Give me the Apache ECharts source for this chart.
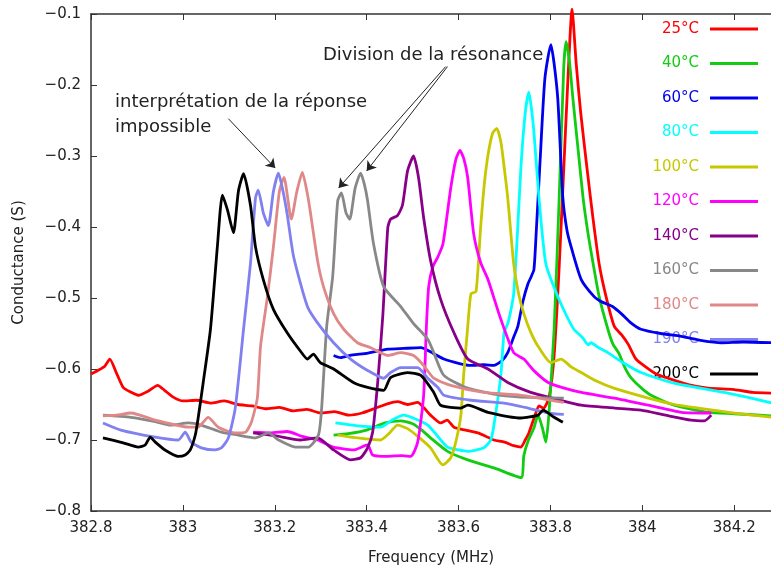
<!DOCTYPE html>
<html><head><meta charset="utf-8">
<script src="https://cdn.jsdelivr.net/npm/echarts@6/dist/echarts.min.js"></script>
<style>html,body{margin:0;padding:0;background:#fff}#c{width:771px;height:571px}</style>
</head><body><div id="c"></div>
<script>
const xMin = 382.8, xMax = 384.28, xStep = 0.2;
const yMin = -0.8, yMax = -0.1, yStep = 0.1;
const names = ['25°C','40°C','60°C','80°C','100°C','120°C','140°C','160°C','180°C','190°C','200°C'];
const colors = ['#ff0000','#11cc11','#0000ee','#00ffff','#c8c800','#ff00ff','#880088','#888888','#e08888','#8080f0','#000000'];

const s25 = [[382.800,-0.607],[382.815,-0.602],[382.830,-0.596],[382.841,-0.586],[382.855,-0.605],[382.870,-0.626],[382.885,-0.632],[382.903,-0.637],[382.925,-0.631],[382.945,-0.623],[382.960,-0.630],[382.980,-0.640],[383.000,-0.645],[383.030,-0.644],[383.060,-0.648],[383.090,-0.645],[383.120,-0.650],[383.150,-0.652],[383.180,-0.656],[383.210,-0.654],[383.240,-0.659],[383.270,-0.657],[383.300,-0.662],[383.330,-0.660],[383.361,-0.665],[383.390,-0.662],[383.420,-0.655],[383.445,-0.649],[383.467,-0.646],[383.490,-0.650],[383.511,-0.647],[383.525,-0.655],[383.539,-0.665],[383.561,-0.676],[383.575,-0.672],[383.590,-0.682],[383.615,-0.686],[383.642,-0.690],[383.660,-0.695],[383.677,-0.700],[383.700,-0.703],[383.720,-0.708],[383.736,-0.710],[383.745,-0.700],[383.753,-0.690],[383.765,-0.668],[383.775,-0.652],[383.785,-0.655],[383.797,-0.640],[383.808,-0.581],[383.819,-0.456],[383.829,-0.317],[383.838,-0.192],[383.847,-0.093],[383.856,-0.170],[383.866,-0.240],[383.880,-0.320],[383.893,-0.390],[383.906,-0.452],[383.921,-0.498],[383.939,-0.540],[383.955,-0.552],[383.969,-0.565],[383.985,-0.585],[383.997,-0.592],[384.030,-0.607],[384.056,-0.613],[384.100,-0.622],[384.143,-0.627],[384.200,-0.629],[384.240,-0.633],[384.283,-0.634]];
const s40 = [[383.328,-0.693],[383.360,-0.691],[383.400,-0.686],[383.440,-0.676],[383.474,-0.673],[383.500,-0.677],[383.520,-0.686],[383.539,-0.697],[383.576,-0.716],[383.620,-0.728],[383.680,-0.740],[383.736,-0.753],[383.742,-0.722],[383.752,-0.700],[383.764,-0.683],[383.773,-0.665],[383.782,-0.682],[383.790,-0.703],[383.797,-0.660],[383.808,-0.544],[383.819,-0.359],[383.829,-0.174],[383.834,-0.139],[383.841,-0.165],[383.849,-0.220],[383.860,-0.290],[383.871,-0.359],[383.882,-0.410],[383.893,-0.452],[383.906,-0.498],[383.925,-0.544],[383.936,-0.565],[383.949,-0.578],[383.962,-0.598],[383.976,-0.613],[384.000,-0.628],[384.019,-0.637],[384.069,-0.651],[384.143,-0.661],[384.200,-0.663],[384.283,-0.666]];
const s60 = [[383.328,-0.581],[383.343,-0.584],[383.370,-0.580],[383.400,-0.578],[383.446,-0.572],[383.480,-0.571],[383.518,-0.570],[383.545,-0.578],[383.568,-0.586],[383.600,-0.592],[383.627,-0.595],[383.655,-0.594],[383.677,-0.595],[383.695,-0.588],[383.707,-0.577],[383.720,-0.555],[383.729,-0.540],[383.740,-0.505],[383.751,-0.480],[383.758,-0.470],[383.764,-0.460],[383.768,-0.420],[383.778,-0.300],[383.788,-0.190],[383.801,-0.143],[383.808,-0.170],[383.816,-0.220],[383.827,-0.359],[383.836,-0.405],[383.845,-0.428],[383.867,-0.474],[383.895,-0.498],[383.910,-0.505],[383.921,-0.508],[383.935,-0.512],[383.954,-0.522],[383.975,-0.535],[383.997,-0.544],[384.040,-0.550],[384.085,-0.554],[384.130,-0.560],[384.172,-0.563],[384.220,-0.562],[384.283,-0.563]];
const s80 = [[383.332,-0.676],[383.380,-0.680],[383.430,-0.682],[383.455,-0.672],[383.480,-0.665],[383.505,-0.670],[383.533,-0.679],[383.555,-0.695],[383.576,-0.710],[383.600,-0.714],[383.620,-0.716],[383.655,-0.711],[383.670,-0.700],[383.677,-0.679],[383.692,-0.609],[383.699,-0.549],[383.707,-0.536],[383.713,-0.520],[383.720,-0.494],[383.728,-0.410],[383.736,-0.313],[383.745,-0.240],[383.753,-0.210],[383.758,-0.230],[383.764,-0.266],[383.775,-0.359],[383.790,-0.452],[383.816,-0.498],[383.835,-0.525],[383.851,-0.544],[383.870,-0.556],[383.882,-0.566],[383.888,-0.563],[383.905,-0.570],[383.925,-0.577],[383.960,-0.592],[383.997,-0.605],[384.069,-0.620],[384.178,-0.633],[384.230,-0.640],[384.283,-0.648]];
const s100 = [[383.337,-0.693],[383.380,-0.697],[383.430,-0.700],[383.450,-0.690],[383.467,-0.679],[383.489,-0.684],[383.515,-0.697],[383.539,-0.711],[383.566,-0.735],[383.583,-0.725],[383.595,-0.700],[383.605,-0.665],[383.611,-0.609],[383.620,-0.540],[383.627,-0.494],[383.638,-0.491],[383.648,-0.401],[383.656,-0.340],[383.664,-0.299],[383.674,-0.268],[383.683,-0.261],[383.692,-0.280],[383.700,-0.320],[383.707,-0.359],[383.720,-0.452],[383.731,-0.495],[383.742,-0.522],[383.757,-0.548],[383.773,-0.568],[383.801,-0.591],[383.823,-0.586],[383.845,-0.597],[383.867,-0.605],[383.900,-0.617],[383.938,-0.627],[384.013,-0.641],[384.070,-0.650],[384.122,-0.655],[384.200,-0.662],[384.283,-0.668]];
const s120 = [[383.153,-0.689],[383.190,-0.690],[383.227,-0.688],[383.260,-0.695],[383.293,-0.700],[383.328,-0.710],[383.371,-0.714],[383.402,-0.707],[383.413,-0.721],[383.446,-0.723],[383.475,-0.722],[383.496,-0.723],[383.511,-0.703],[383.524,-0.637],[383.530,-0.540],[383.535,-0.484],[383.544,-0.456],[383.555,-0.442],[383.566,-0.424],[383.583,-0.345],[383.594,-0.305],[383.603,-0.292],[383.612,-0.305],[383.620,-0.331],[383.633,-0.410],[383.648,-0.450],[383.664,-0.474],[383.692,-0.530],[383.720,-0.577],[383.742,-0.586],[383.765,-0.603],[383.795,-0.619],[383.830,-0.627],[383.867,-0.633],[383.939,-0.641],[384.013,-0.651],[384.085,-0.661],[384.150,-0.662]];
const s140 = [[383.153,-0.690],[383.200,-0.694],[383.256,-0.700],[383.293,-0.697],[383.328,-0.714],[383.365,-0.728],[383.387,-0.725],[383.402,-0.711],[383.413,-0.689],[383.424,-0.619],[383.435,-0.526],[383.446,-0.401],[383.452,-0.389],[383.467,-0.384],[383.478,-0.369],[383.489,-0.321],[383.502,-0.300],[383.513,-0.331],[383.524,-0.387],[383.539,-0.447],[383.561,-0.502],[383.590,-0.549],[383.620,-0.586],[383.664,-0.600],[383.707,-0.619],[383.757,-0.633],[383.810,-0.642],[383.867,-0.651],[383.940,-0.655],[383.997,-0.658],[384.050,-0.665],[384.106,-0.672],[384.135,-0.673],[384.150,-0.665]];
const s160 = [[382.826,-0.665],[382.887,-0.668],[382.940,-0.674],[382.974,-0.679],[383.012,-0.676],[383.040,-0.679],[383.084,-0.689],[383.120,-0.693],[383.158,-0.697],[383.186,-0.690],[383.208,-0.700],[383.245,-0.710],[383.273,-0.710],[383.295,-0.693],[383.302,-0.655],[383.313,-0.540],[383.326,-0.470],[383.337,-0.363],[383.345,-0.352],[383.355,-0.380],[383.363,-0.389],[383.375,-0.345],[383.387,-0.324],[383.395,-0.340],[383.402,-0.363],[383.415,-0.424],[383.437,-0.484],[383.474,-0.512],[383.502,-0.536],[383.533,-0.558],[383.546,-0.577],[383.568,-0.609],[383.620,-0.627],[383.692,-0.637],[383.757,-0.640],[383.829,-0.641]];
const s180 = [[382.826,-0.666],[382.855,-0.665],[382.887,-0.662],[382.940,-0.672],[383.012,-0.682],[383.033,-0.682],[383.055,-0.668],[383.077,-0.682],[383.114,-0.690],[383.136,-0.689],[383.149,-0.675],[383.162,-0.641],[383.169,-0.568],[383.184,-0.498],[383.197,-0.428],[383.210,-0.350],[383.220,-0.330],[383.236,-0.389],[383.248,-0.350],[383.260,-0.323],[383.270,-0.350],[383.277,-0.377],[383.293,-0.447],[383.306,-0.484],[383.328,-0.522],[383.350,-0.544],[383.380,-0.563],[383.409,-0.570],[383.446,-0.581],[383.474,-0.577],[383.502,-0.581],[383.524,-0.595],[383.546,-0.613],[383.583,-0.623],[383.655,-0.633],[383.736,-0.637],[383.829,-0.647]];
const s190 = [[382.826,-0.676],[382.865,-0.686],[382.940,-0.696],[382.990,-0.700],[383.005,-0.689],[383.018,-0.703],[383.040,-0.711],[383.070,-0.714],[383.084,-0.711],[383.099,-0.697],[383.114,-0.655],[383.132,-0.544],[383.147,-0.452],[383.158,-0.359],[383.164,-0.348],[383.175,-0.380],[383.186,-0.398],[383.197,-0.350],[383.208,-0.324],[383.218,-0.350],[383.227,-0.382],[383.241,-0.442],[383.271,-0.512],[383.293,-0.535],[383.328,-0.563],[383.365,-0.586],[383.402,-0.602],[383.437,-0.613],[383.452,-0.605],[383.474,-0.598],[383.511,-0.598],[383.533,-0.613],[383.555,-0.626],[383.568,-0.637],[383.627,-0.644],[383.699,-0.648],[383.751,-0.655],[383.795,-0.662],[383.829,-0.664]];
const s200 = [[382.826,-0.697],[382.870,-0.704],[382.903,-0.710],[382.918,-0.707],[382.929,-0.696],[382.940,-0.703],[382.961,-0.714],[382.990,-0.723],[383.005,-0.721],[383.016,-0.714],[383.027,-0.693],[383.033,-0.670],[383.044,-0.620],[383.060,-0.544],[383.075,-0.428],[383.086,-0.355],[383.097,-0.376],[383.110,-0.408],[383.121,-0.349],[383.132,-0.325],[383.147,-0.369],[383.158,-0.428],[383.175,-0.474],[383.197,-0.516],[383.227,-0.549],[383.256,-0.575],[383.271,-0.586],[383.284,-0.579],[383.299,-0.591],[383.328,-0.600],[383.371,-0.619],[383.402,-0.626],[383.437,-0.630],[383.452,-0.612],[383.489,-0.605],[383.518,-0.609],[383.546,-0.633],[383.561,-0.651],[383.605,-0.655],[383.620,-0.651],[383.664,-0.661],[383.736,-0.669],[383.773,-0.665],[383.784,-0.658],[383.808,-0.668],[383.827,-0.675]];
const allData = [s25,s40,s60,s80,s100,s120,s140,s160,s180,s190,s200];

// annotation arrows (data coordinates: start -> end)
const arrows = [
  [[383.099,-0.2475],[383.201,-0.317]],
  [[383.572,-0.174],[383.339,-0.345]],
  [[383.576,-0.174],[383.400,-0.321]]
];

const FONT = 'DejaVu Sans';
const chart = echarts.init(document.getElementById('c'), null, {renderer:'canvas'});
const fmtY = v => v.toFixed(1).replace('-', '\u2212');
const fmtX = v => String(parseFloat(v.toFixed(1)));

const series = allData.map((d, i) => ({
  name: names[i], type: 'line', data: d, showSymbol: false, symbol: 'none',
  smooth: 0.2,
  clip: i !== 0, animation: false, z: 2 + i * 0.01,
  lineStyle: {color: colors[i], width: 2.8, join: 'round'},
  itemStyle: {color: colors[i]},
  emphasis: {disabled: true}
}));
series[10].markLine = {
  silent: true, animation: false, symbol: ['none','arrow'], symbolSize: 9,
  lineStyle: {color: '#222', width: 1, type: 'solid'},
  label: {show: false}, emphasis: {disabled: true},
  data: arrows.map(a => [{coord: a[0]}, {coord: a[1]}])
};

chart.setOption({
  animation: false,
  backgroundColor: '#fff',
  textStyle: {fontFamily: FONT},
  grid: {left: 91, top: 14, right: 0, bottom: 54, containLabel: false},
  legend: {
    orient: 'vertical', right: 13, top: 21, padding: 0, align: 'right',
    itemWidth: 48, itemHeight: 3, itemGap: 18.5, icon: 'rect', selectedMode: false, z: 1,
    textStyle: {fontFamily: FONT, fontSize: 15, lineHeight: 16, padding: [0, 6, 0, 0]},
    data: names.map((n, i) => ({name: n, textStyle: {color: colors[i]}}))
  },
  xAxis: [{
    type: 'value', min: xMin, max: xMax, interval: xStep, position: 'bottom',
    name: 'Frequency (MHz)', nameLocation: 'middle', nameGap: 40,
    nameTextStyle: {fontFamily: FONT, fontSize: 15, color: '#222'},
    axisLine: {show: true, lineStyle: {color: '#333', width: 1.5}},
    axisTick: {show: true, inside: true, length: 6, lineStyle: {color: '#333', width: 1}},
    axisLabel: {fontFamily: FONT, fontSize: 15, color: '#222', margin: 10, formatter: fmtX, showMaxLabel: false},
    splitLine: {show: false}
  }, {
    type: 'value', min: xMin, max: xMax, interval: xStep, position: 'top',
    axisLine: {show: true, lineStyle: {color: '#333', width: 1.5}},
    axisTick: {show: true, inside: true, length: 6, lineStyle: {color: '#333', width: 1}},
    axisLabel: {show: false}, splitLine: {show: false}
  }],
  yAxis: {
    type: 'value', min: yMin, max: yMax, interval: yStep,
    name: 'Conductance (S)', nameLocation: 'middle', nameRotate: 90, nameGap: 64,
    nameTextStyle: {fontFamily: FONT, fontSize: 15, color: '#222'},
    axisLine: {show: true, lineStyle: {color: '#333', width: 1.5}},
    axisTick: {show: true, inside: true, length: 6, lineStyle: {color: '#333', width: 1}},
    axisLabel: {fontFamily: FONT, fontSize: 15, color: '#222', margin: 10, formatter: fmtY},
    splitLine: {show: false}
  },
  graphic: [
    {type: 'text', left: 115, top: 90, z: 10, silent: true,
     style: {text: 'interprétation de la réponse\nimpossible', font: '18px "DejaVu Sans"', fill: '#222', lineHeight: 25}},
    {type: 'text', left: 323, top: 44, z: 10, silent: true,
     style: {text: 'Division de la résonance', font: '18px "DejaVu Sans"', fill: '#222', lineHeight: 22}}
  ],
  series: series
});
</script>
</body></html>
